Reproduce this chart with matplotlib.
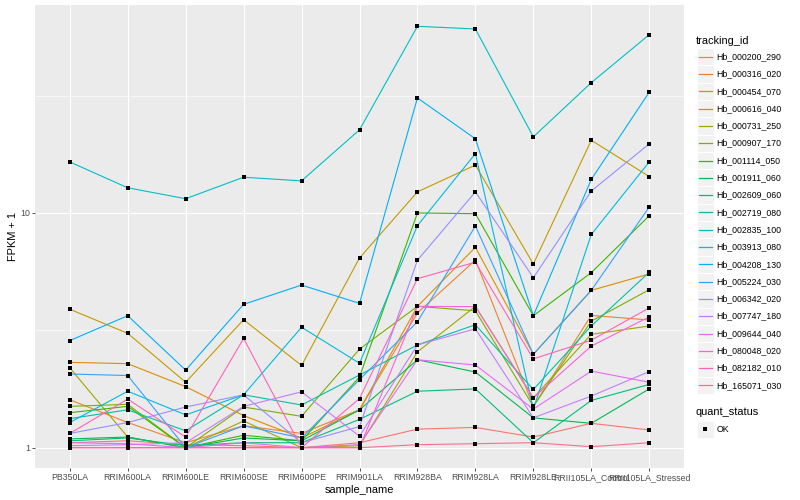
import matplotlib
matplotlib.use("Agg")
import matplotlib.pyplot as plt
from matplotlib.patches import Rectangle
from matplotlib.lines import Line2D

plt.rcParams['font.family'] = ['Liberation Sans', 'DejaVu Sans']

samples = ['PB350LA', 'RRIM600LA', 'RRIM600LE', 'RRIM600SE', 'RRIM600PE', 'RRIM901LA',
           'RRIM928BA', 'RRIM928LA', 'RRIM928LE', 'RRII105LA_Control', 'RRII105LA_Stressed']

tracking_ids = ['Hb_000200_290', 'Hb_000316_020', 'Hb_000454_070', 'Hb_000616_040', 'Hb_000731_250',
                'Hb_000907_170', 'Hb_001114_050', 'Hb_001911_060', 'Hb_002609_060', 'Hb_002719_080',
                'Hb_002835_100', 'Hb_003913_080', 'Hb_004208_130', 'Hb_005224_030', 'Hb_006342_020',
                'Hb_007747_180', 'Hb_009644_040', 'Hb_080048_020', 'Hb_082182_010', 'Hb_165071_030']

# ggplot hue palette, 20 levels
colors = ['#F8766D', '#EA8331', '#D89000', '#C09B00', '#A3A500', '#7CAE00', '#39B600', '#00BB4E',
          '#00BF7D', '#00C1A3', '#00BFC4', '#00BAE0', '#00B0F6', '#35A2FF', '#9590FF', '#C77CFF',
          '#E76BF3', '#FA62DB', '#FF62BC', '#FF6C90']

# FPKM + 1 per gene, one value per sample
fpkm = [
    [1.05, 1.07, 1.03, 1.02, 1.00, 1.05, 1.20, 1.22, 1.11, 1.27, 1.19],
    [1.60, 1.28, 1.05, 1.24, 1.15, 1.45, 3.75, 6.30, 1.50, 3.66, 3.50],
    [2.31, 2.28, 1.82, 1.37, 1.10, 1.45, 4.00, 7.14, 2.50, 4.68, 5.50],
    [3.89, 3.07, 1.90, 3.51, 2.24, 6.43, 12.3, 16.0, 6.06, 20.4, 14.3],
    [2.19, 1.11, 1.00, 1.30, 1.00, 1.02, 2.56, 4.00, 1.63, 3.04, 3.30],
    [1.50, 1.53, 1.00, 1.49, 1.36, 2.63, 4.00, 3.83, 1.50, 3.46, 4.71],
    [1.41, 1.50, 1.00, 1.13, 1.07, 2.00, 10.0, 9.93, 3.65, 5.57, 9.73],
    [1.09, 1.11, 1.00, 1.10, 1.07, 1.45, 2.37, 2.10, 1.34, 1.27, 1.78],
    [1.07, 1.10, 1.02, 1.05, 1.05, 1.32, 1.74, 1.78, 1.05, 1.59, 1.86],
    [1.33, 1.45, 1.18, 1.68, 1.52, 2.04, 2.74, 3.34, 1.77, 3.30, 5.59],
    [16.5, 12.8, 11.5, 14.2, 13.7, 22.6, 62.4, 60.8, 21.1, 35.9, 57.5],
    [1.28, 1.74, 1.38, 1.68, 3.26, 2.29, 8.83, 17.9, 1.46, 8.10, 16.5],
    [2.86, 3.65, 2.14, 4.08, 4.93, 4.12, 30.9, 20.7, 3.65, 13.9, 32.7],
    [2.06, 2.03, 1.00, 1.24, 1.10, 1.95, 3.44, 8.80, 2.50, 4.68, 10.6],
    [1.15, 1.28, 1.49, 1.68, 1.05, 1.23, 6.29, 12.3, 5.30, 12.4, 19.7],
    [1.02, 1.03, 1.05, 1.50, 1.73, 1.12, 2.74, 3.21, 1.34, 1.66, 2.11],
    [1.05, 1.04, 1.00, 1.05, 1.00, 1.03, 2.37, 2.25, 1.46, 2.12, 1.90],
    [1.00, 1.00, 1.00, 1.00, 1.00, 1.00, 4.00, 3.99, 1.63, 2.71, 3.61],
    [1.15, 1.61, 1.11, 2.92, 1.00, 1.62, 5.25, 6.17, 2.39, 2.87, 3.94],
    [1.00, 1.00, 1.00, 1.00, 1.00, 1.00, 1.03, 1.04, 1.05, 1.01, 1.05],
]

fig = plt.figure(figsize=(8, 5), dpi=100)
ax = fig.add_axes([35 / 800, 1 - 468 / 500, (684 - 35) / 800, (468 - 5) / 500])
ax.set_facecolor('#EBEBEB')

x = list(range(len(samples)))
for vals, col in zip(fpkm, colors):
    ax.plot(x, vals, color=col, lw=0.8, zorder=3)
for vals in fpkm:
    ax.plot(x, vals, 's', color='black', ms=2.6, mew=0, zorder=4)

ax.set_yscale('log')
ax.set_ylim(10 ** -0.0865, 10 ** 1.886)
ax.set_xlim(-0.6, len(samples) - 0.4)
ax.set_yticks([1, 10])
ax.set_yticklabels(['1', '10'])
ax.set_yticks([10 ** 0.5, 10 ** 1.5], minor=True)
ax.yaxis.set_minor_formatter(plt.NullFormatter())
ax.set_xticks(x)
ax.set_xticklabels(samples)
ax.grid(True, which='major', color='white', lw=0.8, zorder=0)
ax.grid(True, which='minor', axis='y', color='white', lw=0.4, zorder=0)
ax.set_axisbelow(True)
for s in ax.spines.values():
    s.set_visible(False)
ax.tick_params(which='major', length=2.2, width=0.6, color='#333333', labelsize=6.3,
               labelcolor='#4D4D4D', pad=1.5)
ax.tick_params(which='minor', length=0)
ax.set_xlabel('sample_name', fontsize=7.9, labelpad=2)
ax.set_ylabel('FPKM + 1', fontsize=7.9, labelpad=1.5)

# legend drawn by hand in pixel coordinates
def px(xp, yp):
    return xp / 800, 1 - yp / 500

fig.text(*px(696, 41), 'tracking_id', fontsize=7.9, va='center', ha='left')
for i, (tid, col) in enumerate(zip(tracking_ids, colors)):
    yc = 56.7 + 17.3 * i
    x0, y0 = px(696.5, yc + 8.6)
    fig.add_artist(Rectangle((x0, y0), 17.3 / 800, 17.3 / 500, transform=fig.transFigure,
                             facecolor='#F2F2F2', edgecolor='white', lw=0.7, zorder=1))
    xa, ya = px(698.5, yc)
    xb, _ = px(711.5, yc)
    fig.add_artist(Line2D([xa, xb], [ya, ya], transform=fig.transFigure, color=col, lw=0.9,
                          zorder=5))
    fig.text(*px(716.5, yc), tid, fontsize=6.3, va='center', ha='left')

fig.text(*px(696, 412), 'quant_status', fontsize=7.9, va='center', ha='left')
x0, y0 = px(696.5, 429.3 + 8.6)
fig.add_artist(Rectangle((x0, y0), 17.3 / 800, 17.3 / 500, transform=fig.transFigure,
                         facecolor='#F2F2F2', edgecolor='white', lw=0.7, zorder=1))
xm, ym = px(705, 429.3)
fig.add_artist(Line2D([xm], [ym], transform=fig.transFigure, marker='s', color='black',
                      ms=2.6, mew=0, ls='none', zorder=5))
fig.text(*px(716.5, 429.3), 'OK', fontsize=6.3, va='center', ha='left')

fig.savefig('out.png', dpi=100)
